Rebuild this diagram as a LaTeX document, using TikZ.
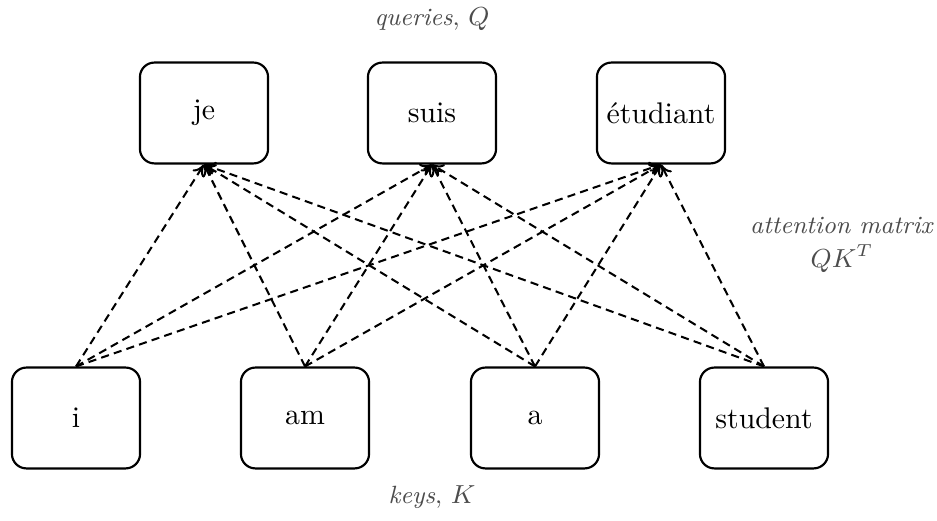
\documentclass[tikz,border=0pt]{standalone}
\usetikzlibrary{arrows.meta}
\begin{document}
\begin{tikzpicture}[x=0.345pt, y=-0.345pt,
  word/.style={draw, line width=0.75pt, rounded corners=5pt,
    minimum width=44.2pt, minimum height=34.8pt, inner sep=0pt,
    font=\fontsize{10.3}{12}\selectfont},
  link/.style={->, line width=0.7pt, dash pattern=on 2.8pt off 1.8pt, >={To[length=4pt,width=4.6pt]}},
  caption/.style={text=black!70, font=\fontsize{8.6}{10.5}\selectfont, align=center, inner sep=0pt}]
\useasboundingbox (0,0) rectangle (937,521);
% queries
\node[word] (je)   at (204,113) {je};
\node[word] (suis) at (432,113) {suis};
\node[word] (etu)  at (661,113) {étudiant};
% keys
\node[word] (i)    at (76,418)  {i};
\node[word] (am)   at (305,418) {am};
\node[word] (a)    at (535,418) {a};
\node[word] (st)   at (764,418) {student};
% captions
\node[caption] (q) at (432,19) {\textit{queries}, $Q$};
\node[caption] (k) at (432,497) {\textit{keys}, $K$};
\node[caption] (m) at (842,245) {\textit{attention matrix}\\[1pt]$QK^T$};
% every key attends to every query
\foreach \k in {i,am,a,st}
  \foreach \q in {je,suis,etu}
    \draw[link] (\k.north) -- (\q.south);
\end{tikzpicture}
\end{document}
